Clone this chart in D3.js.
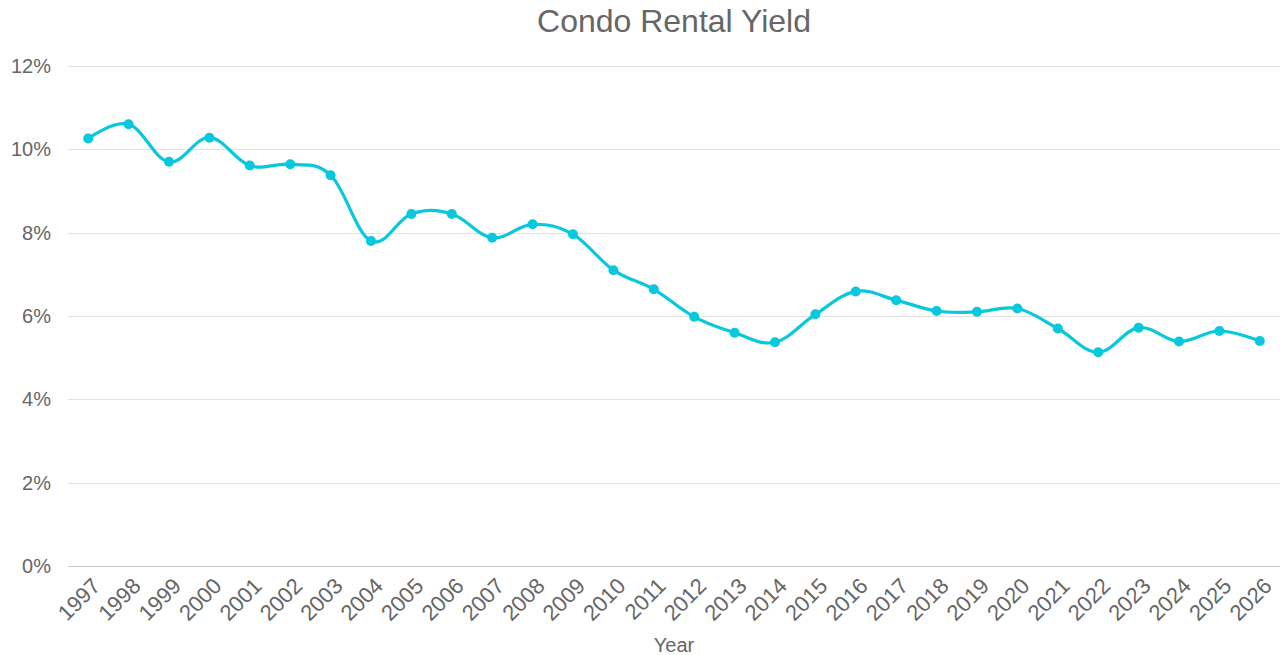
<!DOCTYPE html>
<html>
<head>
<meta charset="utf-8">
<script src="https://cdn.jsdelivr.net/npm/d3@7"></script>
<style>
  html, body { margin: 0; padding: 0; background: #fff; }
  svg { display: block; font-family: "Liberation Sans", Arial, sans-serif; }
</style>
</head>
<body>
<svg id="chart" width="1280" height="655"></svg>
<script>
const years = ["1997","1998","1999","2000","2001","2002","2003","2004","2005","2006","2007","2008","2009","2010","2011","2012","2013","2014","2015","2016","2017","2018","2019","2020","2021","2022","2023","2024","2025","2026"];
const yieldValues = [10.26,10.60,9.70,10.28,9.61,9.64,9.38,7.80,8.45,8.45,7.88,8.20,7.96,7.10,6.64,5.98,5.60,5.37,6.04,6.59,6.38,6.12,6.10,6.18,5.70,5.13,5.72,5.39,5.64,5.40];
const yTicks = [0,2,4,6,8,10,12];
const titleText = "Condo Rental Yield";
const xTitle = "Year";

const svg = d3.select("#chart");
const W = 1280, H = 655;
const m = {left: 68, right: 0, top: 66, bottom: 89};

const x = d3.scaleBand().domain(years).range([m.left, W - m.right]).paddingInner(0).paddingOuter(0);
const y = d3.scaleLinear().domain([0, 12]).range([H - m.bottom, m.top]);

const cx = d => x(d) + x.bandwidth() / 2;

// gridlines
svg.append("g").selectAll("line").data(yTicks).join("line")
  .attr("x1", m.left).attr("x2", W - m.right)
  .attr("y1", d => Math.round(y(d)) + 0.5).attr("y2", d => Math.round(y(d)) + 0.5)
  .attr("stroke", d => d === 0 ? "#cccccc" : "#e3e3e3").attr("stroke-width", 1);

// y axis labels
svg.append("g").selectAll("text").data(yTicks).join("text")
  .attr("x", 51).attr("y", d => y(d)).attr("dy", "0.35em")
  .attr("text-anchor", "end").attr("fill", "#666666").attr("font-size", 20)
  .text(d => d + "%");

// x axis labels
svg.append("g").selectAll("text").data(years).join("text")
  .attr("transform", d => `translate(${cx(d) + 8},${582}) rotate(-45)`)
  .attr("text-anchor", "end").attr("dy", "0.35em")
  .attr("fill", "#666666").attr("font-size", 22)
  .text(d => d);

// title
svg.append("text").attr("x", (m.left + W - m.right) / 2).attr("y", 32)
  .attr("text-anchor", "middle").attr("fill", "#666666").attr("font-size", 32)
  .text(titleText);

// x axis title
svg.append("text").attr("x", (m.left + W - m.right) / 2).attr("y", 652)
  .attr("text-anchor", "middle").attr("fill", "#666666").attr("font-size", 20)
  .text(xTitle);

const data = years.map((yr, i) => ({yr, v: yieldValues[i]}));

const line = d3.line().x(d => cx(d.yr)).y(d => y(d.v)).curve(d3.curveCardinal.tension(-0.1));

svg.append("path").datum(data)
  .attr("d", line).attr("fill", "none")
  .attr("stroke", "#07c8dc").attr("stroke-width", 3.2)
  .attr("stroke-linejoin", "round").attr("stroke-linecap", "round");

svg.append("g").selectAll("circle").data(data).join("circle")
  .attr("cx", d => cx(d.yr)).attr("cy", d => y(d.v)).attr("r", 5)
  .attr("fill", "#07c8dc");
</script>
</body>
</html>
